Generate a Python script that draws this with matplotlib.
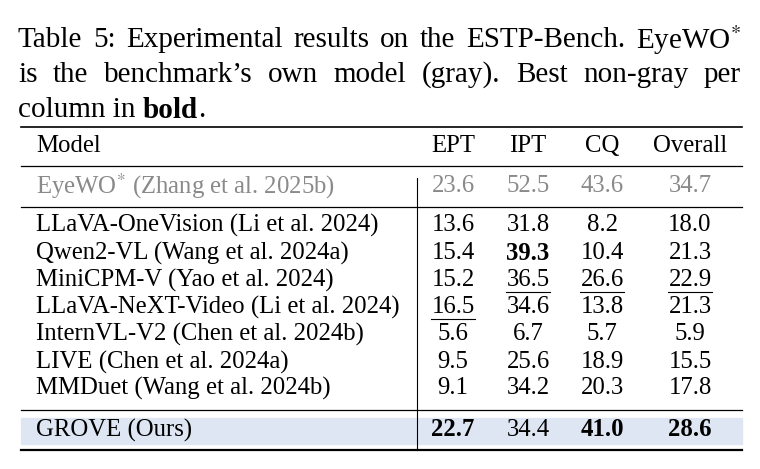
import matplotlib
matplotlib.use("Agg")
import matplotlib.pyplot as plt

plt.rcParams['font.family'] = ['Liberation Serif', 'DejaVu Serif']
plt.rcParams['mathtext.fontset'] = 'stix'

columns = ["EPT", "IPT", "CQ", "Overall"]
ref_model = "EyeWO$^{*}$ (Zhang et al. 2025b)"
ref_values = ["23.6", "52.5", "43.6", "34.7"]
models = ["LLaVA-OneVision (Li et al. 2024)", "Qwen2-VL (Wang et al. 2024a)",
          "MiniCPM-V (Yao et al. 2024)", "LLaVA-NeXT-Video (Li et al. 2024)",
          "InternVL-V2 (Chen et al. 2024b)", "LIVE (Chen et al. 2024a)",
          "MMDuet (Wang et al. 2024b)"]
values = [["13.6", "31.8", "8.2", "18.0"],
          ["15.4", "39.3", "10.4", "21.3"],
          ["15.2", "36.5", "26.6", "22.9"],
          ["16.5", "34.6", "13.8", "21.3"],
          ["5.6", "6.7", "5.7", "5.9"],
          ["9.5", "25.6", "18.9", "15.5"],
          ["9.1", "34.2", "20.3", "17.8"]]
ours_model = "GROVE (Ours)"
ours_values = ["22.7", "34.4", "41.0", "28.6"]
bold_cells = {(1, 1)}
underline_cells = {(2, 1), (2, 2), (2, 3), (3, 0)}
ours_bold = {0, 2, 3}

W, H = 760, 469
fig = plt.figure(figsize=(W / 100, H / 100), dpi=100)
ax = fig.add_axes([0, 0, 1, 1])
ax.set_xlim(0, W)
ax.set_ylim(H, 0)
ax.axis('off')
r = fig.canvas.get_renderer()

def width(t):
    bb = t.get_window_extent(renderer=r)
    return bb.width

# caption, justified lines
cap_fs = 21
cap_lines = ["Table 5: Experimental results on the ESTP-Bench. EyeWO$^{*}$",
             "is the benchmark\u2019s own model (gray). Best non-gray per"]
x0, x1 = 18, 741
for i, line in enumerate(cap_lines):
    words = line.split(" ")
    texts = [ax.text(0, 40 + i * 35, w, fontsize=cap_fs, va='center') for w in words]
    ws = [width(t) for t in texts]
    gap = max((x1 - x0 - sum(ws)) / (len(words) - 1), 2)
    x = x0
    for t, w in zip(texts, ws):
        t.set_x(x)
        x += w + gap
x = x0
for part, wt in [("column in ", 'normal'), ("bold", 'bold'), (".", 'normal')]:
    t = ax.text(x, 110, part, fontsize=cap_fs, va='center', fontweight=wt)
    x += width(t)

# table
fs = 17.8
col_x = [453, 528, 602, 690]
name_x = 36
gray = '#8a8a8a'
ax.axhspan(418, 444, xmin=21 / W, xmax=742 / W, color='#dde6f2', zorder=0)
ax.plot([21, 742], [127, 127], color='black', lw=1.2)
ax.plot([21, 742], [166, 166], color='black', lw=0.9)
ax.plot([21, 742], [207, 207], color='black', lw=0.9)
ax.plot([21, 742], [410, 410], color='black', lw=0.9)
ax.plot([21, 742], [450, 450], color='black', lw=1.6)
ax.plot([417, 417], [178, 450], color='black', lw=0.8)

ax.text(name_x, 146, "Model", fontsize=fs, va='center')
for cx, c in zip(col_x, columns):
    ax.text(cx, 146, c, fontsize=fs, va='center', ha='center')

ax.text(name_x, 186, ref_model, fontsize=fs, va='center', color=gray)
for cx, v in zip(col_x, ref_values):
    ax.text(cx, 186, v, fontsize=fs, va='center', ha='center', color=gray)

row_y = [225, 253, 280, 307, 334, 362, 388]
for i, (m, vals) in enumerate(zip(models, values)):
    y = row_y[i]
    ax.text(name_x, y, m, fontsize=fs, va='center')
    for j, (cx, v) in enumerate(zip(col_x, vals)):
        t = ax.text(cx, y, v, fontsize=fs, va='center', ha='center',
                    fontweight='bold' if (i, j) in bold_cells else 'normal')
        if (i, j) in underline_cells:
            w = width(t)
            ax.plot([cx - w / 2, cx + w / 2], [y + 12, y + 12], color='black', lw=0.8)

ax.text(name_x, 430, ours_model, fontsize=fs, va='center')
for j, (cx, v) in enumerate(zip(col_x, ours_values)):
    ax.text(cx, 430, v, fontsize=fs, va='center', ha='center',
            fontweight='bold' if j in ours_bold else 'normal')

fig.savefig('out.png', dpi=100)
